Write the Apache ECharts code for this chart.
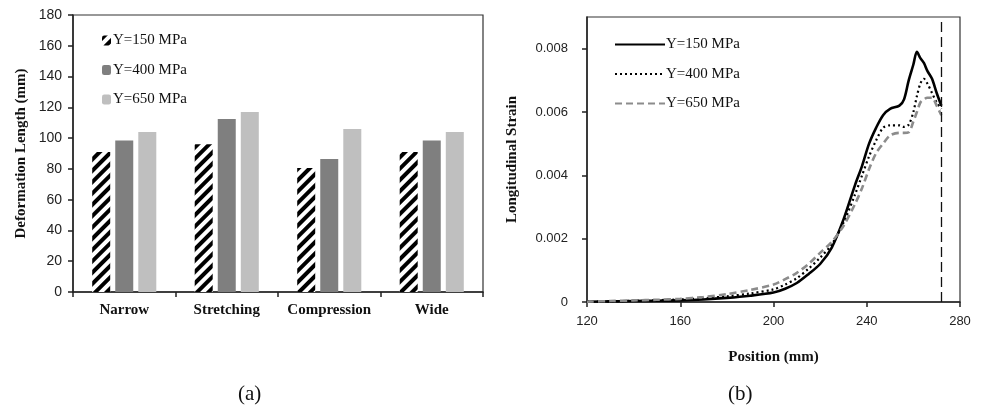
<!DOCTYPE html>
<html>
<head>
<meta charset="utf-8">
<script src="https://cdn.jsdelivr.net/npm/echarts@6/dist/echarts.min.js"></script>
<style>html,body{margin:0;padding:0;background:#fff}#c{width:983px;height:410px}</style>
</head>
<body>
<div id="c"></div>
<script>
// ---- (a) bar chart data ----
const categories = ['Narrow', 'Stretching', 'Compression', 'Wide'];
const barNames = ['Y=150 MPa', 'Y=400 MPa', 'Y=650 MPa'];
const bar150 = [91, 96, 80.5, 91];
const bar400 = [98.5, 112.5, 86.5, 98.5];
const bar650 = [104, 117, 106, 104];
const barTicks = [0, 20, 40, 60, 80, 100, 120, 140, 160, 180];

// ---- (b) strain curves data ----
const positions = [120,130,140,150,160,170,180,190,200,205,210,215,220,225,230,235,238,241,244,247,250,254,256,258,260,261.5,263,264.5,266,268,270,272];
const strain150 = [0.00001,0.00002,0.00003,0.00004,0.00005,0.00008,0.00013,0.0002,0.0003,0.00042,0.0006,0.00088,0.0012,0.00172,0.0026,0.0037,0.0043,0.005,0.0055,0.0059,0.0061,0.0062,0.0064,0.007,0.0075,0.0079,0.0077,0.00755,0.0073,0.00705,0.0066,0.0062];
const strain400 = [0.00001,0.00002,0.00004,0.00006,0.00008,0.00012,0.00018,0.00027,0.0004,0.00055,0.00075,0.00105,0.0014,0.00182,0.0025,0.0034,0.004,0.0046,0.0051,0.0055,0.00558,0.00558,0.00553,0.0056,0.006,0.0065,0.0069,0.00705,0.0069,0.0066,0.0063,0.0061];
const strain650 = [0.00001,0.00003,0.00005,0.00007,0.0001,0.00016,0.00025,0.00038,0.00055,0.00072,0.00092,0.0012,0.00155,0.0019,0.0024,0.0031,0.0036,0.0042,0.0047,0.005,0.00526,0.00534,0.00534,0.00536,0.0057,0.006,0.0063,0.0064,0.00645,0.00645,0.0062,0.0059];
const edgePosition = 272;
const strainTicks = [0, 0.002, 0.004, 0.006, 0.008];

const SERIF = '"Liberation Serif", "Times New Roman", serif';
const SANS = '"Liberation Sans", Arial, sans-serif';
const lineTag = ' (b)';

function pairs(xs, ys) { return xs.map((x, i) => [x, ys[i]]); }

const chart = echarts.init(document.getElementById('c'), null, {renderer: 'canvas'});
chart.setOption({
  animation: false,
  backgroundColor: '#fff',
  grid: [
    {left: 73, top: 15, width: 410, height: 277, show: true, borderColor: '#333', borderWidth: 1.2, backgroundColor: 'transparent'},
    {left: 587, top: 17, width: 373, height: 285, show: true, borderColor: '#333', borderWidth: 1.2, backgroundColor: 'transparent'}
  ],
  legend: [
    {
      data: barNames, orient: 'vertical', left: 97, top: 28, itemWidth: 9, itemHeight: 10, itemGap: 14.5,
      textStyle: {fontFamily: SERIF, fontSize: 15, color: '#111', padding: [0, 0, 0, -3]}, selectedMode: false
    },
    {
      data: barNames.map(n => n + lineTag), orient: 'vertical', left: 609, top: 32, itemWidth: 50, itemHeight: 14, itemGap: 14.5,
      formatter: n => n.replace(lineTag, ''),
      itemStyle: {opacity: 0},
      textStyle: {fontFamily: SERIF, fontSize: 15, color: '#111', padding: [0, 0, 0, -4]}, selectedMode: false
    }
  ],
  xAxis: [
    {
      gridIndex: 0, type: 'category', data: categories, boundaryGap: true,
      axisLine: {lineStyle: {color: '#222', width: 1.5}},
      axisTick: {show: true, length: 5, lineStyle: {color: '#222', width: 1.5}},
      axisLabel: {interval: 0, fontFamily: SERIF, fontWeight: 'bold', fontSize: 15, color: '#111', margin: 11}
    },
    {
      gridIndex: 1, type: 'value', min: 120, max: 280, interval: 40,
      name: 'Position (mm)', nameLocation: 'middle', nameGap: 48,
      nameTextStyle: {fontFamily: SERIF, fontWeight: 'bold', fontSize: 15, color: '#111'},
      splitLine: {show: false},
      axisLine: {lineStyle: {color: '#222', width: 1.5}},
      axisTick: {show: true, length: 5, lineStyle: {color: '#222', width: 1.5}},
      axisLabel: {fontFamily: SANS, fontSize: 13, color: '#222', margin: 13}
    }
  ],
  yAxis: [
    {
      gridIndex: 0, type: 'value', min: 0, max: 180, interval: 20,
      name: 'Deformation Length (mm)', nameLocation: 'middle', nameGap: 44, nameRotate: 90,
      nameTextStyle: {fontFamily: SERIF, fontWeight: 'bold', fontSize: 15, color: '#111'},
      splitLine: {show: false},
      axisLine: {show: true, lineStyle: {color: '#222', width: 1.5}},
      axisTick: {show: true, length: 5, lineStyle: {color: '#222', width: 1.5}},
      axisLabel: {fontFamily: SANS, fontSize: 14, color: '#222', margin: 11,
        formatter: v => (barTicks.indexOf(v) >= 0 ? String(v) : '')}
    },
    {
      gridIndex: 1, type: 'value', min: 0, max: 0.009, interval: 0.002,
      name: 'Longitudinal Strain', nameLocation: 'middle', nameGap: 67, nameRotate: 90,
      nameTextStyle: {fontFamily: SERIF, fontWeight: 'bold', fontSize: 15, color: '#111'},
      splitLine: {show: false},
      axisLine: {show: true, lineStyle: {color: '#222', width: 1.5}},
      axisTick: {show: true, length: 5, lineStyle: {color: '#222', width: 1.5}},
      axisLabel: {fontFamily: SANS, fontSize: 13, color: '#222', margin: 19, showMaxLabel: false,
        formatter: v => {
          const r = Math.round(v * 1000) / 1000;
          const hit = strainTicks.find(t => Math.abs(t - r) < 1e-9);
          return hit === undefined ? '' : (hit === 0 ? '0' : hit.toFixed(3));
        }}
    }
  ],
  series: [
    {
      name: barNames[0], type: 'bar', xAxisIndex: 0, yAxisIndex: 0, data: bar150, barWidth: 18, barGap: '28%',
      itemStyle: {color: '#ffffff', decal: {symbol: 'rect', symbolSize: 1, color: '#000', dashArrayX: [1, 0], dashArrayY: [3.6, 3.4], rotation: -Math.PI / 4}}
    },
    {name: barNames[1], type: 'bar', xAxisIndex: 0, yAxisIndex: 0, data: bar400, barWidth: 18, barGap: '28%', itemStyle: {color: '#7f7f7f'}},
    {name: barNames[2], type: 'bar', xAxisIndex: 0, yAxisIndex: 0, data: bar650, barWidth: 18, barGap: '28%', itemStyle: {color: '#bfbfbf'}},
    {
      name: barNames[0] + lineTag, type: 'line', xAxisIndex: 1, yAxisIndex: 1, data: pairs(positions, strain150),
      showSymbol: false, symbol: 'none', smooth: 0.3, lineStyle: {color: '#000', width: 2.6, type: 'solid'}, itemStyle: {color: '#000'},
      markLine: {
        silent: true, symbol: ['none', 'none'], label: {show: false},
        lineStyle: {color: '#111', width: 1.3, type: [10, 5]},
        data: [{xAxis: edgePosition}]
      }
    },
    {
      name: barNames[1] + lineTag, type: 'line', xAxisIndex: 1, yAxisIndex: 1, data: pairs(positions, strain400),
      showSymbol: false, symbol: 'none', smooth: 0.3, lineStyle: {color: '#000', width: 2.2, type: [2, 3]}, itemStyle: {color: '#000'}
    },
    {
      name: barNames[2] + lineTag, type: 'line', xAxisIndex: 1, yAxisIndex: 1, data: pairs(positions, strain650),
      showSymbol: false, symbol: 'none', smooth: 0.3, lineStyle: {color: '#8c8c8c', width: 2.6, type: [7, 4]}, itemStyle: {color: '#8c8c8c'}
    }
  ],
  graphic: [
    {type: 'text', left: 238, top: 384, style: {text: '(a)', font: '21px ' + SERIF, fill: '#111'}},
    {type: 'text', left: 728, top: 384, style: {text: '(b)', font: '21px ' + SERIF, fill: '#111'}}
  ]
});
</script>
</body>
</html>
